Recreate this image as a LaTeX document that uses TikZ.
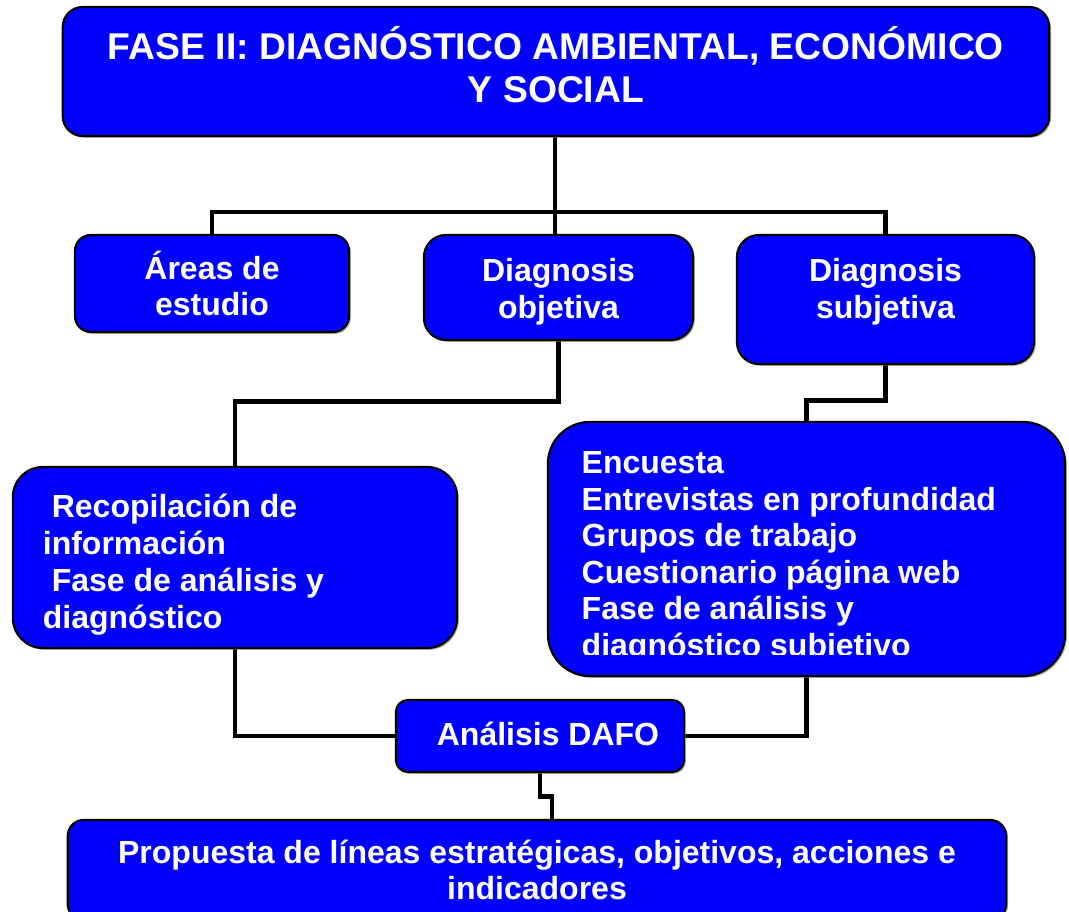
\documentclass[tikz,border=0pt]{standalone}
\usepackage{fontspec}
\setmainfont{Liberation Sans}
\usetikzlibrary{shadows,backgrounds}

% invisible struts to set the text a little lower or higher in its box
\newcommand{\padtop}[1]{\rule{0pt}{#1}}
\newcommand{\padbot}[1]{\rule[-#1]{0pt}{0pt}}

\tikzset{
  box/.style={draw=black, line width=0.6pt, fill=blue, text=white,
    font=\bfseries\fontsize{9.1}{10.45}\selectfont, align=center, inner sep=0pt,
    drop shadow={shadow xshift=0.5pt, shadow yshift=-0.5pt, fill=gray, opacity=0.6}},
  item/.style={text=white, font=\bfseries\fontsize{9.1}{10.45}\selectfont, inner sep=0pt},
  wire/.style={line width=1.4pt}
}

\begin{document}
\begin{tikzpicture}[x=0.01cm, y=-0.01cm]
\useasboundingbox (0,0) rectangle (1069,912);
% pixel grid: x to the right, y downwards
\node[box, minimum width=9.86cm, minimum height=1.29cm, rounded corners=0.2cm,
  font=\bfseries\fontsize{10.6}{12.1}\selectfont] (fase) at (556,71.5)
  {FASE II: DIAGNÓSTICO AMBIENTAL, ECONÓMICO\\Y SOCIAL\padbot{4pt}};

\node[box, minimum width=2.74cm, minimum height=0.97cm, rounded corners=0.16cm]
  (areas) at (212,283.5) {Áreas de\\estudio};
\node[box, minimum width=2.69cm, minimum height=1.05cm, rounded corners=0.22cm]
  (obj) at (558.5,287.5) {\padtop{8.9pt}Diagnosis\\objetiva};
\node[box, minimum width=2.97cm, minimum height=1.29cm, rounded corners=0.22cm]
  (subj) at (885.5,299.5) {Diagnosis\\subjetiva\padbot{6.5pt}};

\node[box, align=flush left, text width=3.84cm, inner xsep=0.3cm, minimum height=1.81cm,
  rounded corners=0.3cm] (recop) at (235,557.5)
  {\hspace*{.28em}\padtop{10.7pt}Recopilación de\\información\\\hspace*{.28em}Fase de análisis y\\diagnóstico};
\node[box, minimum width=5.17cm, minimum height=2.54cm, rounded corners=0.42cm]
  (survey) at (806.5,549) {};

\node[box, minimum width=2.88cm, minimum height=0.72cm, rounded corners=0.12cm]
  (dafo) at (540,736) {\hspace*{.5em}Análisis DAFO\padbot{1.5pt}};
\node[box, minimum width=9.38cm, minimum height=1.0cm, rounded corners=0.16cm]
  (prop) at (537,870)
  {Propuesta de líneas estratégicas, objetivos, acciones e\\indicadores};

% text of the survey box runs past its lower edge
\begin{scope}
\clip (548,422) rectangle (1065,654);
\foreach \y/\t in {473/Encuesta, 510/Entrevistas en profundidad,
    546/Grupos de trabajo, 583/Cuestionario página web,
    619/Fase de análisis y, 656/diagnóstico subjetivo}
{
    \node[item, anchor=base west] (line\y) at (581,\y) {\t};
};
\end{scope}

\coordinate (hub) at (555,212);
\coordinate (jog) at (552,820);

\begin{scope}[on background layer]
\draw[wire] (fase.south -| hub) -- (hub);
\draw[wire] (areas.north) |- (hub) -| (subj.north);
\draw[wire] (hub) -- (hub |- obj.north);
\draw[wire] (obj.south) -- ++(0,60) -| (recop.north);
\draw[wire] (subj.south) -- ++(0,35) -| (survey.north);
\draw[wire] (recop.south) |- (dafo.west);
\draw[wire] (survey.south) |- (dafo.east);
\draw[wire] (dafo.south) -- ++(0,23) -| (jog);
\end{scope}
\end{tikzpicture}
\end{document}
